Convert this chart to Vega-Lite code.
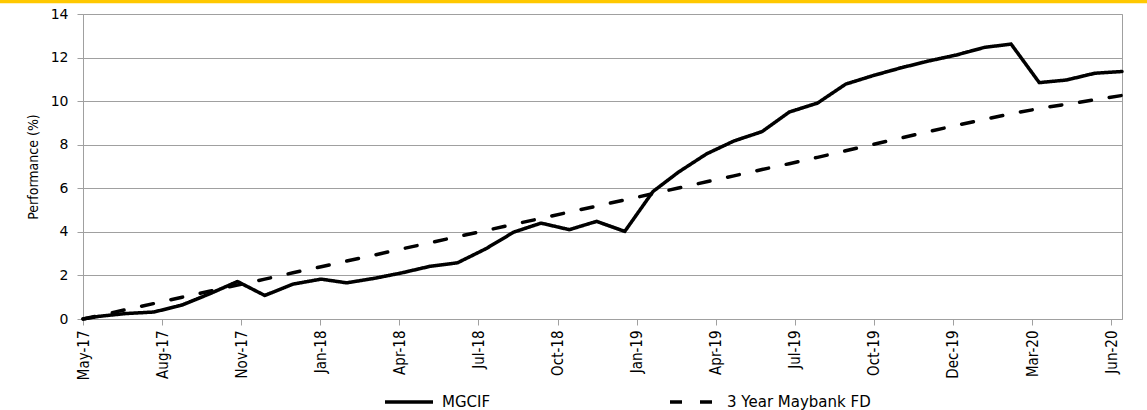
{
  "$schema": "https://vega.github.io/schema/vega-lite/v6.json",
  "width": 1039,
  "height": 305,
  "autosize": {"type": "none"},
  "padding": {"left": 83, "top": 14, "right": 25, "bottom": 91},
  "background": "white",
  "config": {"view": {"stroke": "#A0A0A0", "strokeWidth": 1}, "font": "DejaVu Sans"},
  "datasets": {
    "perf": [
      {"date": "2017-05-14", "series": "MGCIF", "value": 0},
      {"date": "2017-05-31", "series": "MGCIF", "value": 0.12},
      {"date": "2017-06-30", "series": "MGCIF", "value": 0.25},
      {"date": "2017-07-31", "series": "MGCIF", "value": 0.32},
      {"date": "2017-08-31", "series": "MGCIF", "value": 0.64},
      {"date": "2017-09-30", "series": "MGCIF", "value": 1.15},
      {"date": "2017-10-31", "series": "MGCIF", "value": 1.72},
      {"date": "2017-11-30", "series": "MGCIF", "value": 1.08},
      {"date": "2017-12-31", "series": "MGCIF", "value": 1.6},
      {"date": "2018-01-31", "series": "MGCIF", "value": 1.83},
      {"date": "2018-02-28", "series": "MGCIF", "value": 1.66},
      {"date": "2018-03-31", "series": "MGCIF", "value": 1.87},
      {"date": "2018-04-30", "series": "MGCIF", "value": 2.12},
      {"date": "2018-05-31", "series": "MGCIF", "value": 2.42},
      {"date": "2018-06-30", "series": "MGCIF", "value": 2.58},
      {"date": "2018-07-31", "series": "MGCIF", "value": 3.22},
      {"date": "2018-08-31", "series": "MGCIF", "value": 3.99},
      {"date": "2018-09-30", "series": "MGCIF", "value": 4.4},
      {"date": "2018-10-31", "series": "MGCIF", "value": 4.1},
      {"date": "2018-11-30", "series": "MGCIF", "value": 4.48},
      {"date": "2018-12-31", "series": "MGCIF", "value": 4.02},
      {"date": "2019-01-31", "series": "MGCIF", "value": 5.85},
      {"date": "2019-02-28", "series": "MGCIF", "value": 6.74},
      {"date": "2019-03-31", "series": "MGCIF", "value": 7.58},
      {"date": "2019-04-30", "series": "MGCIF", "value": 8.17},
      {"date": "2019-05-31", "series": "MGCIF", "value": 8.6},
      {"date": "2019-06-30", "series": "MGCIF", "value": 9.5},
      {"date": "2019-07-31", "series": "MGCIF", "value": 9.91},
      {"date": "2019-08-31", "series": "MGCIF", "value": 10.78},
      {"date": "2019-09-30", "series": "MGCIF", "value": 11.17},
      {"date": "2019-10-31", "series": "MGCIF", "value": 11.53},
      {"date": "2019-11-30", "series": "MGCIF", "value": 11.84},
      {"date": "2019-12-31", "series": "MGCIF", "value": 12.12},
      {"date": "2020-01-31", "series": "MGCIF", "value": 12.47},
      {"date": "2020-02-29", "series": "MGCIF", "value": 12.62},
      {"date": "2020-03-31", "series": "MGCIF", "value": 10.85},
      {"date": "2020-04-30", "series": "MGCIF", "value": 10.97},
      {"date": "2020-05-31", "series": "MGCIF", "value": 11.28},
      {"date": "2020-06-30", "series": "MGCIF", "value": 11.36},
      {"date": "2017-05-14", "series": "3 Year Maybank FD", "value": 0},
      {"date": "2017-05-31", "series": "3 Year Maybank FD", "value": 0.15},
      {"date": "2017-06-30", "series": "3 Year Maybank FD", "value": 0.43},
      {"date": "2017-07-31", "series": "3 Year Maybank FD", "value": 0.71},
      {"date": "2017-08-31", "series": "3 Year Maybank FD", "value": 1.0},
      {"date": "2017-09-30", "series": "3 Year Maybank FD", "value": 1.27},
      {"date": "2017-10-31", "series": "3 Year Maybank FD", "value": 1.56},
      {"date": "2017-11-30", "series": "3 Year Maybank FD", "value": 1.83},
      {"date": "2017-12-31", "series": "3 Year Maybank FD", "value": 2.12},
      {"date": "2018-01-31", "series": "3 Year Maybank FD", "value": 2.4},
      {"date": "2018-02-28", "series": "3 Year Maybank FD", "value": 2.66},
      {"date": "2018-03-31", "series": "3 Year Maybank FD", "value": 2.94},
      {"date": "2018-04-30", "series": "3 Year Maybank FD", "value": 3.22},
      {"date": "2018-05-31", "series": "3 Year Maybank FD", "value": 3.5},
      {"date": "2018-06-30", "series": "3 Year Maybank FD", "value": 3.78},
      {"date": "2018-07-31", "series": "3 Year Maybank FD", "value": 4.06},
      {"date": "2018-08-31", "series": "3 Year Maybank FD", "value": 4.35},
      {"date": "2018-09-30", "series": "3 Year Maybank FD", "value": 4.62},
      {"date": "2018-10-31", "series": "3 Year Maybank FD", "value": 4.91},
      {"date": "2018-11-30", "series": "3 Year Maybank FD", "value": 5.18},
      {"date": "2018-12-31", "series": "3 Year Maybank FD", "value": 5.47},
      {"date": "2019-01-31", "series": "3 Year Maybank FD", "value": 5.75},
      {"date": "2019-02-28", "series": "3 Year Maybank FD", "value": 6.01},
      {"date": "2019-03-31", "series": "3 Year Maybank FD", "value": 6.3},
      {"date": "2019-04-30", "series": "3 Year Maybank FD", "value": 6.57},
      {"date": "2019-05-31", "series": "3 Year Maybank FD", "value": 6.86},
      {"date": "2019-06-30", "series": "3 Year Maybank FD", "value": 7.13},
      {"date": "2019-07-31", "series": "3 Year Maybank FD", "value": 7.42},
      {"date": "2019-08-31", "series": "3 Year Maybank FD", "value": 7.72},
      {"date": "2019-09-30", "series": "3 Year Maybank FD", "value": 8.01},
      {"date": "2019-10-31", "series": "3 Year Maybank FD", "value": 8.31},
      {"date": "2019-11-30", "series": "3 Year Maybank FD", "value": 8.6},
      {"date": "2019-12-31", "series": "3 Year Maybank FD", "value": 8.89},
      {"date": "2020-01-31", "series": "3 Year Maybank FD", "value": 9.17},
      {"date": "2020-02-29", "series": "3 Year Maybank FD", "value": 9.42},
      {"date": "2020-03-31", "series": "3 Year Maybank FD", "value": 9.66},
      {"date": "2020-04-30", "series": "3 Year Maybank FD", "value": 9.86},
      {"date": "2020-05-31", "series": "3 Year Maybank FD", "value": 10.06},
      {"date": "2020-06-30", "series": "3 Year Maybank FD", "value": 10.26}
    ]
  },
  "layer": [
    {
      "data": {"name": "perf"},
      "mark": {"type": "line", "strokeWidth": 3.5, "strokeCap": "round", "strokeJoin": "round"},
      "encoding": {
        "x": {
          "field": "date",
          "type": "temporal",
          "title": null,
          "scale": {
            "type": "utc",
            "domain": [
              {"year": 2017, "month": 5, "date": 14, "utc": true},
              {"year": 2020, "month": 6, "date": 30, "utc": true}
            ]
          },
          "axis": {
            "values": [
              {"year": 2017, "month": 5, "date": 14, "utc": true},
              {"year": 2017, "month": 8, "date": 9, "utc": true},
              {"year": 2017, "month": 11, "date": 4, "utc": true},
              {"year": 2018, "month": 1, "date": 30, "utc": true},
              {"year": 2018, "month": 4, "date": 27, "utc": true},
              {"year": 2018, "month": 7, "date": 23, "utc": true},
              {"year": 2018, "month": 10, "date": 18, "utc": true},
              {"year": 2019, "month": 1, "date": 13, "utc": true},
              {"year": 2019, "month": 4, "date": 10, "utc": true},
              {"year": 2019, "month": 7, "date": 6, "utc": true},
              {"year": 2019, "month": 10, "date": 1, "utc": true},
              {"year": 2019, "month": 12, "date": 27, "utc": true},
              {"year": 2020, "month": 3, "date": 23, "utc": true},
              {"year": 2020, "month": 6, "date": 18, "utc": true}
            ],
            "format": "%b-%y",
            "labelAngle": 270,
            "labelAlign": "right",
            "labelBaseline": "middle",
            "labelFont": "Liberation Sans Narrow, DejaVu Sans Condensed, Liberation Sans",
            "labelFontSize": 15,
            "labelColor": "#000000",
            "labelPadding": 5,
            "labelOverlap": false,
            "labelFlush": false,
            "tickSize": 6,
            "tickColor": "#A0A0A0",
            "domainColor": "#A0A0A0",
            "grid": false
          }
        },
        "y": {
          "field": "value",
          "type": "quantitative",
          "title": "Performance (%)",
          "scale": {"domain": [0, 14], "nice": false},
          "axis": {
            "values": [0, 2, 4, 6, 8, 10, 12, 14],
            "grid": true,
            "gridColor": "#A0A0A0",
            "gridWidth": 1,
            "domainColor": "#A0A0A0",
            "tickColor": "#A0A0A0",
            "tickSize": 6,
            "labelFont": "DejaVu Sans",
            "labelFontSize": 14,
            "labelColor": "#000000",
            "labelPadding": 9,
            "titleFont": "Liberation Sans Narrow, DejaVu Sans Condensed, Liberation Sans",
            "titleFontSize": 14,
            "titleFontWeight": "normal",
            "titleColor": "#000000",
            "titlePadding": 10
          }
        },
        "color": {
          "field": "series",
          "type": "nominal",
          "title": null,
          "scale": {"domain": ["MGCIF", "3 Year Maybank FD"], "range": ["#000000", "#000000"]},
          "legend": {
            "orient": "none",
            "legendX": 300,
            "legendY": 362,
            "direction": "horizontal",
            "symbolType": "stroke",
            "symbolSize": 2304,
            "symbolStrokeWidth": 3.5,
            "labelFont": "DejaVu Sans",
            "labelFontSize": 15,
            "labelColor": "#000000",
            "labelOffset": 7,
            "labelLimit": 400,
            "columnPadding": 172,
            "padding": 0
          }
        },
        "strokeDash": {
          "field": "series",
          "type": "nominal",
          "title": null,
          "scale": {"domain": ["MGCIF", "3 Year Maybank FD"], "range": [[1, 0], [12, 18]]},
          "legend": {
            "orient": "none",
            "legendX": 300,
            "legendY": 362,
            "direction": "horizontal",
            "symbolType": "stroke",
            "symbolSize": 2304,
            "symbolStrokeWidth": 3.5,
            "labelFont": "DejaVu Sans",
            "labelFontSize": 15,
            "labelColor": "#000000",
            "labelOffset": 7,
            "labelLimit": 400,
            "columnPadding": 172,
            "padding": 0
          }
        }
      }
    },
    {
      "data": {"values": [{"band": "top"}]},
      "mark": {"type": "rect", "clip": false, "color": "#FFC800"},
      "encoding": {
        "x": {"datum": {"year": 2017, "month": 2, "date": 1, "utc": true}, "type": "temporal", "title": null},
        "x2": {"datum": {"year": 2020, "month": 8, "date": 31, "utc": true}},
        "y": {"datum": 14.49, "type": "quantitative", "title": "Performance (%)"},
        "y2": {"datum": 14.75}
      }
    }
  ]
}
